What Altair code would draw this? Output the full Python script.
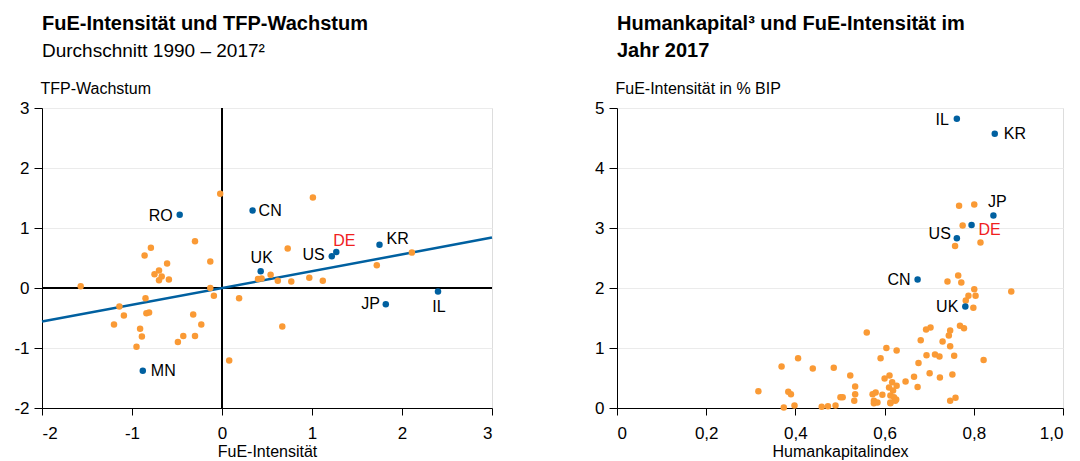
import altair as alt
import pandas as pd

# ---------------- data: left panel ----------------
left_orange_x = [-0.02, 1.01, -0.30, -0.79, -0.86, -0.13, -0.61, 0.73, -0.70, -0.75, -0.67, -0.70, -0.59,
                 -1.57, -0.13, -0.09, 0.40, 0.44, 0.54, 0.62, 0.77, 0.97, 1.12, 0.19, -0.85, -1.14, -1.09,
                 -0.84, -0.81, -0.32, -1.20, -0.91, -0.89, -0.23, -0.30, -0.43, -0.49, -0.95, 0.67, 0.08,
                 2.11, 1.72]
left_orange_y = [1.57, 1.51, 0.78, 0.67, 0.54, 0.44, 0.41, 0.66, 0.29, 0.23, 0.19, 0.13, 0.14,
                 0.03, 0.00, -0.13, 0.15, 0.16, 0.22, 0.12, 0.11, 0.17, 0.12, -0.17, -0.17, -0.31, -0.46,
                 -0.42, -0.41, -0.44, -0.61, -0.68, -0.81, -0.61, -0.80, -0.80, -0.90, -0.98, -0.64, -1.21,
                 0.59, 0.38]
left_blue_name = ["RO", "CN", "UK", "US", "DE", "KR", "JP", "IL", "MN"]
left_blue_x = [-0.47, 0.34, 0.43, 1.22, 1.27, 1.75, 1.82, 2.40, -0.88]
left_blue_y = [1.22, 1.29, 0.28, 0.53, 0.60, 0.72, -0.27, -0.06, -1.38]
fit_x = [-2.0, 3.0]
fit_y = [-0.56, 0.84]

# ---------------- data: right panel ----------------
right_orange_x = [0.767, 0.801, 0.775, 0.758, 0.815, 0.765, 0.741, 0.772, 0.801, 0.884, 0.804, 0.788,
                  0.782, 0.799, 0.769, 0.778, 0.703, 0.693, 0.747, 0.744, 0.560, 0.681, 0.730, 0.747,
                  0.604, 0.627, 0.591, 0.694, 0.713, 0.723, 0.756, 0.822, 0.676, 0.701, 0.752, 0.724,
                  0.666, 0.647, 0.674, 0.611, 0.600, 0.617, 0.627, 0.610, 0.619, 0.523, 0.534, 0.534,
                  0.532, 0.506, 0.573, 0.580, 0.595, 0.576, 0.584, 0.576, 0.613, 0.621, 0.613, 0.624,
                  0.747, 0.759, 0.317, 0.369, 0.406, 0.439, 0.486, 0.384, 0.390, 0.501, 0.374, 0.398,
                  0.459, 0.473, 0.490, 0.626, 0.613]
right_orange_y = [3.37, 3.39, 3.04, 2.70, 2.76, 2.21, 2.11, 2.09, 1.98, 1.94, 1.87, 1.87,
                  1.79, 1.67, 1.37, 1.33, 1.34, 1.31, 1.29, 1.21, 1.26, 1.13, 1.11, 1.03,
                  1.00, 0.96, 0.83, 0.88, 0.89, 0.86, 0.87, 0.80, 0.75, 0.58, 0.56, 0.51,
                  0.52, 0.44, 0.35, 0.54, 0.49, 0.43, 0.37, 0.34, 0.29, 0.54, 0.36, 0.23,
                  0.12, 0.18, 0.23, 0.26, 0.22, 0.12, 0.09, 0.08, 0.21, 0.18, 0.09, 0.12,
                  0.12, 0.17, 0.28, 0.69, 0.83, 0.66, 0.67, 0.27, 0.23, 0.18, 0.01, 0.04,
                  0.02, 0.03, 0.04, 0.14, 0.08]
right_blue_name = ["IL", "KR", "JP", "DE", "US", "CN", "UK"]
right_blue_x = [0.762, 0.847, 0.844, 0.795, 0.762, 0.674, 0.781]
right_blue_y = [4.82, 4.57, 3.21, 3.05, 2.83, 2.14, 1.69]

left_ticks = [-2, -1, 0, 1, 2, 3]
right_x_ticks = [0, 0.2, 0.4, 0.6, 0.8, 1.0]
right_y_ticks = [0, 1, 2, 3, 4, 5]

ORANGE = "#FA9A35"
BLUE = "#0060A0"
RED = "#F0201E"
FONT = "Liberation Sans"

lo = pd.DataFrame({"x": left_orange_x, "y": left_orange_y})
lb = pd.DataFrame({"name": left_blue_name, "x": left_blue_x, "y": left_blue_y})
lf = pd.DataFrame({"x": fit_x, "y": fit_y})
ro = pd.DataFrame({"x": right_orange_x, "y": right_orange_y})
rb = pd.DataFrame({"name": right_blue_name, "x": right_blue_x, "y": right_blue_y})

axis_common = dict(domainColor="black", tickColor="black", labelColor="black", labelFontSize=17,
                   labelFont=FONT, titleFont=FONT, titleColor="black", titleFontWeight="normal",
                   titleFontSize=16)
x_axis_style = dict(tickSize=7, labelPadding=10, titlePadding=2, **axis_common)
y_axis_style = dict(tickSize=8, labelPadding=5, **axis_common)

int_label = "replace(format(datum.value, 'd'), '\u2212', '-')"
dec_label = "datum.value == 0 ? '0' : replace(format(datum.value, '.1f'), '.', ',')"


def lx(**kw):
    return alt.X("x:Q", scale=alt.Scale(domain=[-2, 3], nice=False),
                 axis=alt.Axis(values=left_ticks, grid=False, title="FuE-Intensität",
                               labelExpr=int_label, **x_axis_style), **kw)


def ly(**kw):
    return alt.Y("y:Q", scale=alt.Scale(domain=[-2, 3], nice=False),
                 axis=alt.Axis(values=left_ticks, grid=True, gridColor="#ebebeb", title="TFP-Wachstum",
                               labelExpr=int_label,
                               titleAngle=0, titleAlign="left", titleX=-2, titleY=-15,
                               titleBaseline="alphabetic", **y_axis_style), **kw)


def rx(**kw):
    return alt.X("x:Q", scale=alt.Scale(domain=[0, 1], nice=False),
                 axis=alt.Axis(values=right_x_ticks, grid=False, title="Humankapitalindex",
                               labelExpr=dec_label, **x_axis_style), **kw)


def ry(**kw):
    return alt.Y("y:Q", scale=alt.Scale(domain=[0, 5], nice=False),
                 axis=alt.Axis(values=right_y_ticks, grid=True, gridColor="#ebebeb",
                               title="FuE-Intensität in % BIP", labelExpr=int_label,
                               titleAngle=0, titleAlign="left", titleX=-2, titleY=-15,
                               titleBaseline="alphabetic", **y_axis_style), **kw)


def labels(df, X, Y, spec):
    layers = []
    for name, (align, dx, dy) in spec.items():
        layers.append(
            alt.Chart(df).transform_filter(alt.datum.name == name)
            .mark_text(align=align, baseline="middle", dx=dx, dy=dy, fontSize=16, font=FONT,
                       color=RED if name == "DE" else "black")
            .encode(x=X(), y=Y(), text="name:N")
        )
    return layers


left_spec = {
    "RO": ("right", -7, 1), "CN": ("left", 6, 0), "UK": ("center", 1, -13), "US": ("right", -7, -1),
    "DE": ("left", -3, -11), "KR": ("left", 7, -6), "JP": ("right", -6, 0), "IL": ("center", 1, 15),
    "MN": ("left", 8, 0),
}
right_spec = {
    "IL": ("right", -8, 1), "KR": ("left", 9, 0), "JP": ("center", 4, -13), "DE": ("left", 7, 5),
    "US": ("right", -6, -4), "CN": ("right", -7, 0), "UK": ("right", -7, 0),
}

left_layers = [
    alt.Chart(lo).mark_rule(color="black", strokeWidth=1.2).encode(x=alt.datum(0)),
    alt.Chart(lo).mark_rule(color="black", strokeWidth=1.2).encode(y=alt.datum(0)),
    alt.Chart(lf).mark_line(color=BLUE, strokeWidth=2.5).encode(x=lx(), y=ly()),
    alt.Chart(lo).mark_circle(color=ORANGE, opacity=1, size=42).encode(x=lx(), y=ly()),
    alt.Chart(lb).mark_circle(color=BLUE, opacity=1, size=42).encode(x=lx(), y=ly()),
] + labels(lb, lx, ly, left_spec)

right_layers = [
    alt.Chart(ro).mark_circle(color=ORANGE, opacity=1, size=42).encode(x=rx(), y=ry()),
    alt.Chart(rb).mark_circle(color=BLUE, opacity=1, size=42).encode(x=rx(), y=ry()),
] + labels(rb, rx, ry, right_spec)

title_common = dict(anchor="start", frame="group", font=FONT, fontSize=20, fontWeight="bold",
                    color="black", subtitleFont=FONT, subtitleFontSize=19, subtitleColor="black",
                    subtitlePadding=8, lineHeight=27, offset=19)

left = alt.layer(*left_layers).properties(
    width=450, height=300,
    title=alt.TitleParams(text="FuE-Intensität und TFP-Wachstum", subtitle="Durchschnitt 1990 – 2017²",
                          **title_common))
right = alt.layer(*right_layers).properties(
    width=446, height=300,
    title=alt.TitleParams(text=["Humankapital³ und FuE-Intensität im", "Jahr 2017"], **title_common))

chart = alt.hconcat(left, right, spacing=96).configure_view(stroke="#ebebeb").properties(
    padding={"left": 5, "top": 5, "right": 0, "bottom": 0}).configure(background="white")

chart.save("out.html", embed_options={"renderer": "svg", "actions": False})
